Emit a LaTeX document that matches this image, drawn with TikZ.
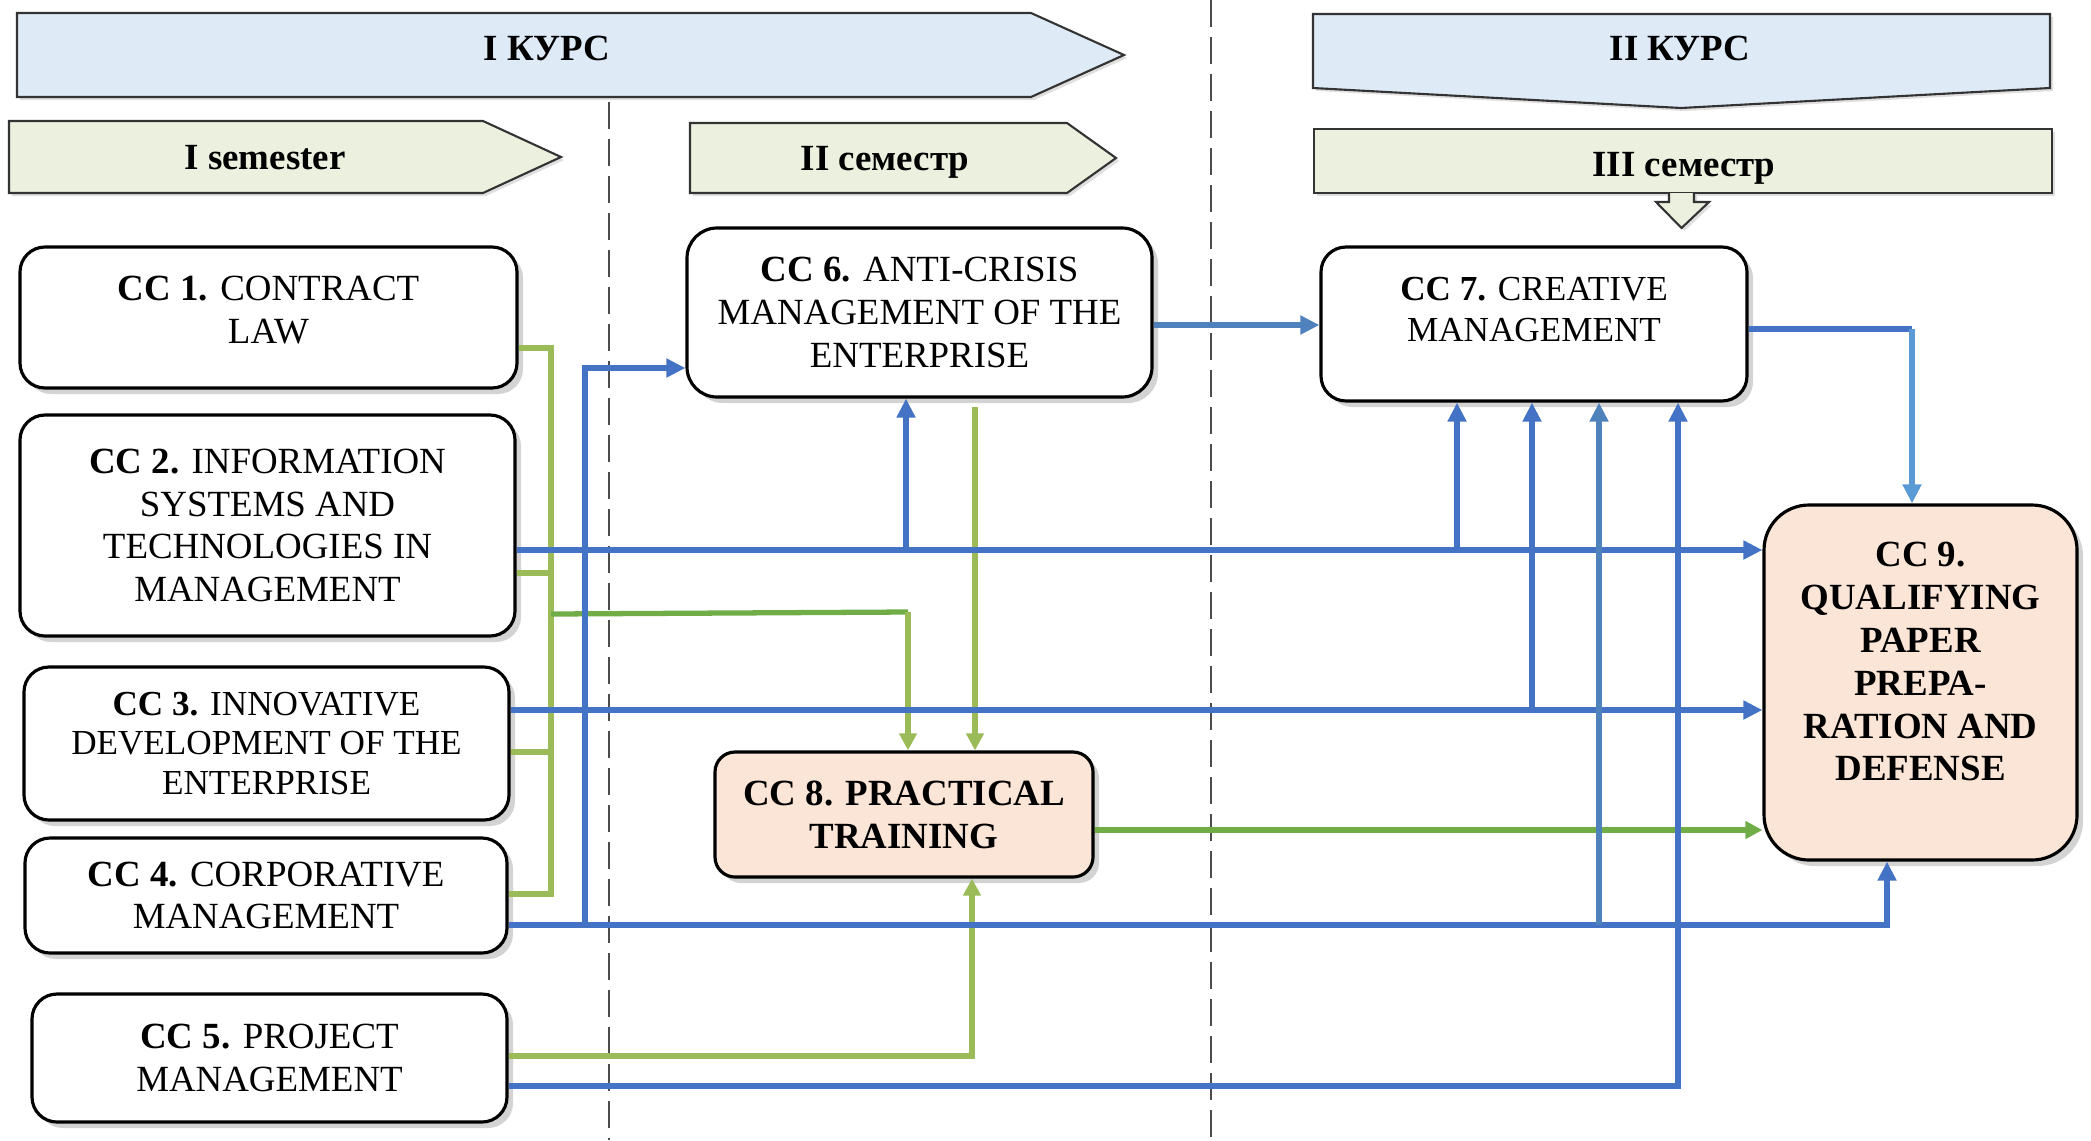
\documentclass[tikz,border=0pt]{standalone}
\usepackage{fontspec}
\setmainfont{Liberation Serif}
\usetikzlibrary{arrows.meta, shadows}

\definecolor{bandblue}{HTML}{DEEBF7}
\definecolor{bandgreen}{HTML}{EBF1DE}
\definecolor{peach}{HTML}{FBE5D6}
\definecolor{lineblue}{HTML}{4472C4}
\definecolor{steelblue}{HTML}{4F81BD}
\definecolor{skyblue}{HTML}{5B9BD5}
\definecolor{leafgreen}{HTML}{70AD47}
\definecolor{olivegreen}{HTML}{9BBB59}

\begin{document}
\begin{tikzpicture}[
    txt/.style={font=\fontsize{10.5}{12.2}\selectfont},
    course/.style={draw=black!80, line width=0.6pt, fill=bandblue,
      drop shadow={shadow xshift=0.03cm, shadow yshift=-0.03cm, opacity=0.25}},
    sem/.style={course, fill=bandgreen},
    bandtext/.style={font=\fontsize{10.5}{12.2}\selectfont\bfseries, anchor=base},
    cc/.style={txt, draw, line width=0.9pt, fill=white, rounded corners=0.25cm, align=center, inner sep=2pt,
      drop shadow={shadow xshift=0.06cm, shadow yshift=-0.06cm, opacity=0.35}},
    ccbold/.style={cc, fill=peach, font=\fontsize{10.5}{12.2}\selectfont\bfseries},
    divider/.style={black!70, line width=0.75pt, dash pattern=on 0.27cm off 0.1cm},
    bpipe/.style={lineblue, line width=1.5pt},
    bline/.style={bpipe, -{Triangle[length=0.19cm, width=0.18cm]}},
    gpipe/.style={olivegreen, line width=1.5pt},
    gline/.style={gpipe, -{Triangle[length=0.17cm, width=0.17cm]}},
  ]
  \useasboundingbox (0,0) rectangle (20.91,-11.40);

  % courses and semesters
  \draw[course] (0.17,-0.13) -- (10.31,-0.13) -- (11.24,-0.55) -- (10.31,-0.97) -- (0.17,-0.97) -- cycle;
  \node[bandtext] (kurs1) at (5.47,-0.60) {I КУРС};
  \draw[course] (13.13,-0.14) -- (20.50,-0.14) -- (20.50,-0.88) -- (16.81,-1.08) -- (13.13,-0.88) -- cycle;
  \node[bandtext] (kurs2) at (16.80,-0.60) {II КУРС};
  \draw[sem] (0.09,-1.21) -- (4.83,-1.21) -- (5.61,-1.57) -- (4.83,-1.93) -- (0.09,-1.93) -- cycle;
  \node[bandtext] (sem1) at (2.65,-1.69) {I semester};
  \draw[sem] (6.90,-1.23) -- (10.67,-1.23) -- (11.16,-1.58) -- (10.67,-1.93) -- (6.90,-1.93) -- cycle;
  \node[bandtext] (sem2) at (8.85,-1.70) {II семестр};
  \draw[sem] (13.14,-1.29) rectangle (20.52,-1.93);
  \draw[sem] (16.69,-1.93) -- (16.69,-2.02) -- (16.56,-2.02) -- (16.815,-2.28) -- (17.09,-2.02) -- (16.94,-2.02) -- (16.94,-1.93);
  \node[bandtext] (sem3) at (16.84,-1.76) {III семестр};

  \draw[divider] (6.09,-1.02) -- (6.09,-11.40);
  \draw[divider] (12.11,0) -- (12.11,-11.40);

  % courses CC 1 - CC 9
  \node[cc, minimum width=4.97cm, minimum height=1.41cm, text depth=0.16cm] (cc1) at (2.685,-3.175) {\textbf{CC 1.} CONTRACT\\LAW};
  \node[cc, minimum width=4.95cm, minimum height=2.21cm] (cc2) at (2.675,-5.255) {\textbf{CC 2.} INFORMATION\\SYSTEMS AND\\TECHNOLOGIES IN\\MANAGEMENT};
  \node[cc, font=\fontsize{10}{11.3}\selectfont, minimum width=4.85cm, minimum height=1.53cm] (cc3) at (2.665,-7.435) {\textbf{CC 3.} INNOVATIVE\\DEVELOPMENT OF THE\\ENTERPRISE};
  \node[cc, minimum width=4.82cm, minimum height=1.15cm] (cc4) at (2.66,-8.955) {\textbf{CC 4.} CORPORATIVE\\MANAGEMENT};
  \node[cc, minimum width=4.75cm, minimum height=1.28cm] (cc5) at (2.695,-10.58) {\textbf{CC 5.} PROJECT\\MANAGEMENT};
  \node[cc, rounded corners=0.3cm, minimum width=4.65cm, minimum height=1.69cm] (cc6) at (9.195,-3.125) {\textbf{CC 6.} ANTI-CRISIS\\MANAGEMENT OF THE\\ENTERPRISE};
  \node[cc, font=\fontsize{10}{11.7}\selectfont, minimum width=4.26cm, minimum height=1.54cm, text depth=0.3cm] (cc7) at (15.34,-3.24) {\textbf{CC 7.} CREATIVE\\MANAGEMENT};
  \node[ccbold, rounded corners=0.2cm, minimum width=3.78cm, minimum height=1.25cm] (cc8) at (9.04,-8.145) {CC 8. PRACTICAL\\TRAINING};
  \node[ccbold, rounded corners=0.45cm, minimum width=3.13cm, minimum height=3.55cm, text depth=0.42cm] (cc9) at (19.205,-6.825) {CC 9.\\QUALIFYING\\PAPER\\PREPA-\\RATION AND\\DEFENSE};

  % junctions
  \coordinate (gbus) at (5.51,-6.14);
  \coordinate (gturn) at (9.08,-6.12);
  \coordinate (g6) at (9.75,-4.07);
  \coordinate (up6) at (9.06,-5.50);
  \coordinate (up7a) at (14.57,-5.50);
  \coordinate (up7b) at (15.32,-7.10);
  \coordinate (up7c) at (15.99,-9.25);
  \coordinate (riser) at (5.85,-9.25);
  \coordinate (turn9) at (19.12,-3.29);

  % green links
  \draw[gpipe] (cc1.east |- 0,-3.48) -| (gbus);
  \draw[gpipe] (cc2.east |- 0,-5.73) -| (gbus);
  \draw[gpipe] (cc3.east |- 0,-7.52) -| (gbus);
  \draw[gpipe] (cc4.east |- 0,-8.94) -| (gbus);
  \draw[gpipe, leafgreen] (gbus) -- (gturn);
  \draw[gline] (gturn) -- (cc8.north -| gturn);
  \draw[gline] (g6) -- (cc8.north -| g6);
  \draw[gline] (cc5.east |- 0,-10.56) -| (cc8.south -| 9.72,0);
  \draw[gline, leafgreen] (cc8.east |- 0,-8.30) -- (cc9.west |- 0,-8.30);

  % blue links
  \draw[bline] (cc2.east |- 0,-5.50) -- (cc9.west |- 0,-5.50);
  \draw[bline] (up6) -- (cc6.south -| up6);
  \draw[bline] (up7a) -- (cc7.south -| up7a);
  \draw[bline] (cc3.east |- 0,-7.10) -- (cc9.west |- 0,-7.10);
  \draw[bline] (up7b) -- (cc7.south -| up7b);
  \draw[bline] (cc4.east |- 0,-9.25) -| (cc9.south -| 18.87,0);
  \draw[bline] (riser) |- (cc6.west |- 0,-3.68);
  \draw[bline, steelblue] (up7c) -- (cc7.south -| up7c);
  \draw[bline] (cc5.east |- 0,-10.86) -| (cc7.south -| 16.78,0);
  \draw[bline, steelblue] (cc6.east |- 0,-3.25) -- (cc7.west |- 0,-3.25);
  \draw[bpipe] (cc7.east |- 0,-3.29) -- (turn9);
  \draw[bline, skyblue] (turn9) -- (cc9.north -| turn9);
\end{tikzpicture}
\end{document}
